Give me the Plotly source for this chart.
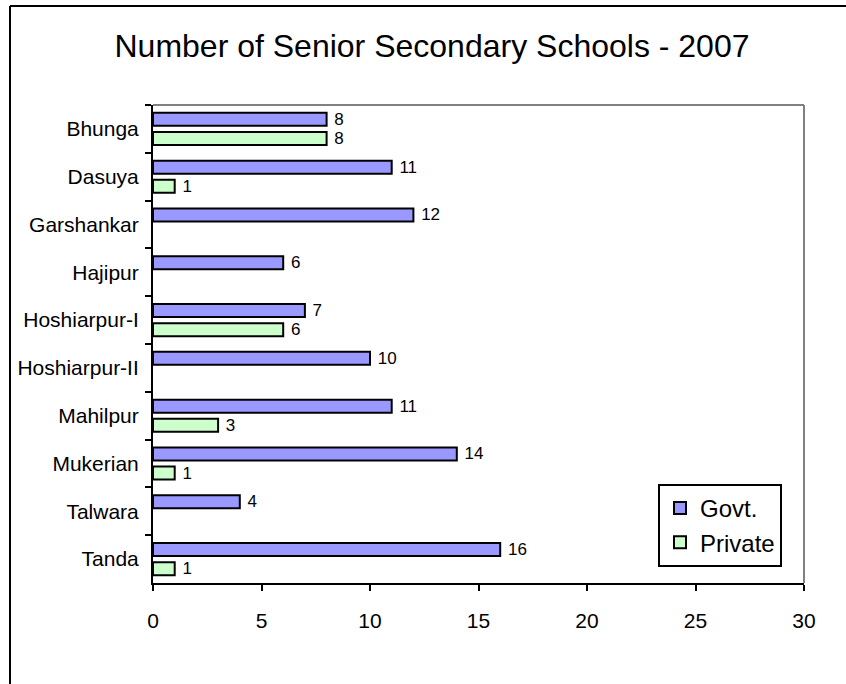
import plotly.graph_objects as go

categories = ["Bhunga", "Dasuya", "Garshankar", "Hajipur", "Hoshiarpur-I",
              "Hoshiarpur-II", "Mahilpur", "Mukerian", "Talwara", "Tanda"]
govt = [8, 11, 12, 6, 7, 10, 11, 14, 4, 16]
private = [8, 1, None, None, 6, None, 3, 1, None, 1]
x_ticks = [0, 5, 10, 15, 20, 25, 30]

FONT = "Liberation Sans, Arial, sans-serif"

fig = go.Figure()
fig.add_trace(go.Bar(
    name="Govt.", y=categories, x=govt, orientation="h",
    marker=dict(color="#9999FF", line=dict(color="black", width=2)),
    texttemplate="\u00a0%{x}", textposition="outside", constraintext="none",
    textfont=dict(size=17, color="black", family=FONT),
    cliponaxis=False, legendgroup="g",
))
fig.add_trace(go.Bar(
    name="Private", y=categories, x=private, orientation="h",
    marker=dict(color="#CCFFCC", line=dict(color="black", width=2)),
    texttemplate="\u00a0%{x}", textposition="outside", constraintext="none",
    textfont=dict(size=17, color="black", family=FONT),
    cliponaxis=False, legendgroup="p",
))

L, R, T, B = 153, 804, 105, 583
W, H = 846, 684
pw, ph = R - L, B - T

fig.update_layout(
    width=W, height=H,
    margin=dict(l=L, r=W - R, t=T, b=H - B, pad=0),
    paper_bgcolor="white", plot_bgcolor="white",
    font=dict(family=FONT, color="black"),
    barmode="group", bargap=0.2, bargroupgap=0.32,
    uniformtext=dict(mode=False),
    title=dict(text="Number of Senior Secondary Schools - 2007",
               x=(432) / W, xanchor="center", y=1 - 46 / H, yanchor="middle",
               font=dict(size=32, family=FONT, color="black")),
    showlegend=True,
    legend=dict(x=(658 - L) / pw, y=(B - 484) / ph, xanchor="left", yanchor="top",
                bordercolor="black", borderwidth=2, bgcolor="white",
                font=dict(size=24, family=FONT, color="black"),
                tracegroupgap=8, traceorder="normal"),
    xaxis=dict(range=[0, 30], tickvals=x_ticks, ticktext=[str(v) for v in x_ticks],
               showgrid=False, zeroline=False, showline=True, linecolor="black",
               linewidth=2, ticks="outside", ticklen=6, tickwidth=2, tickcolor="black",
               tickfont=dict(size=21, family=FONT, color="black"),
               ticklabelstandoff=12),
    yaxis=dict(autorange="reversed", showgrid=False, zeroline=False, showline=True,
               linecolor="black", linewidth=2, ticks="outside", ticklen=6, tickwidth=2,
               tickcolor="black", tickson="boundaries",
               tickfont=dict(size=21, family=FONT, color="black"),
               ticklabelstandoff=8),
    shapes=[
        dict(type="line", xref="paper", yref="paper", x0=0, x1=1, y0=1, y1=1,
             line=dict(color="#808080", width=2)),
        dict(type="line", xref="paper", yref="paper", x0=1, x1=1, y0=0, y1=1,
             line=dict(color="#808080", width=2)),
        dict(type="line", xref="paper", yref="paper",
             x0=(10 - L) / pw, x1=(W + 5 - L) / pw, y0=(B - 6) / ph, y1=(B - 6) / ph,
             line=dict(color="black", width=2)),
        dict(type="line", xref="paper", yref="paper",
             x0=(10 - L) / pw, x1=(10 - L) / pw, y0=(B - 6) / ph, y1=(B - H - 5) / ph,
             line=dict(color="black", width=2)),
    ],
)

fig.write_html("out.html")
